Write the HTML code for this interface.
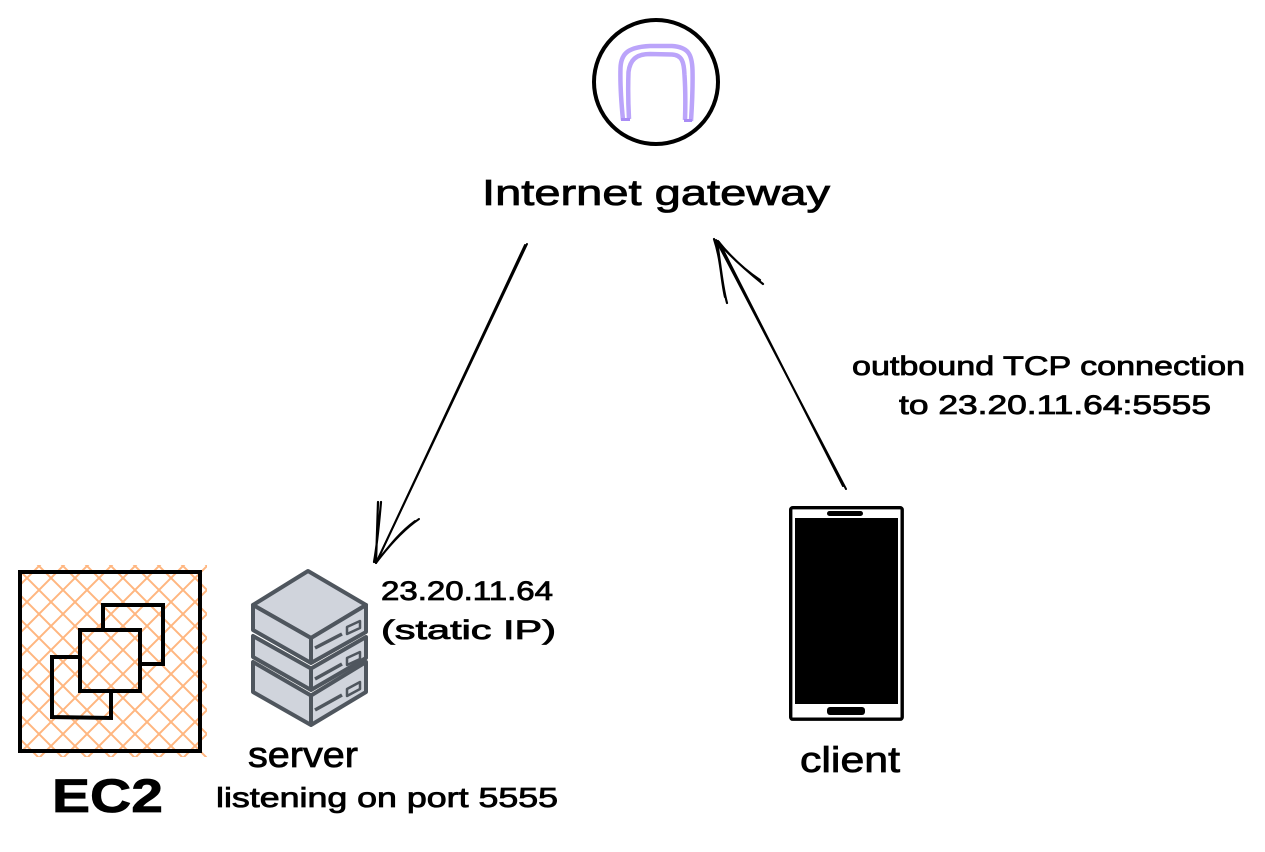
<!DOCTYPE html>
<html><head><meta charset="utf-8"><style>
html,body{margin:0;padding:0;background:#fff;width:1265px;height:852px;overflow:hidden}
svg{display:block}
text{font-family:"Liberation Sans",sans-serif;fill:#000;stroke:#000;stroke-width:.8}
</style></head><body>
<svg width="1265" height="852" viewBox="0 0 1265 852" xmlns="http://www.w3.org/2000/svg">
<defs>
<pattern id="h" width="24" height="24" patternUnits="userSpaceOnUse" x="3" y="2">
<path d="M-6,-6L30,30M-6,30L30,-6" stroke="#ffb680" stroke-width="2" fill="none"/>
</pattern>
</defs>
<rect x="21" y="565" width="186" height="192" fill="url(#h)"/>
<rect x="20" y="572" width="180" height="179" fill="none" stroke="#000" stroke-width="4"/>
<path d="M103,629V605H163V664H141M79,657H52L52,717L111,718V692" fill="none" stroke="#000" stroke-width="4"/>
<rect x="80" y="630" width="60" height="61" fill="none" stroke="#000" stroke-width="4"/>

<circle cx="656" cy="82" r="62" fill="none" stroke="#000" stroke-width="4"/>
<g fill="none" stroke="#bba4fa" stroke-width="4.500">
<path d="M623,120C621,100 620,85 620.500,68C621,52 630,47 650,46L672,46C688,47 692,54 692.500,70C693,90 692,105 691,121"/>
<path d="M629,119C628,100 628,85 628.500,72C630,60 636,54 650,54L672,54.500C682,55 684,62 684.500,75C685.500,90 685.500,105 685,120"/>
</g>
<path d="M621,119.500L630,119.500M684,120.500L692,120.500" stroke="#a98cf5" stroke-width="3" fill="none"/>

<g fill="none" stroke="#000" stroke-linecap="round">
<path d="M527,244L376,563" stroke-width="2"/>
<path d="M525,245L378,559" stroke-width="2"/>
<path d="M381,502C379,525 377,545 374,562M378,502L376,563" stroke-width="2.200"/>
<path d="M419,519C403,530 388,547 376,563M415,521C400,532 390,545 378,560" stroke-width="2"/>
<path d="M846,489L716,240" stroke-width="2"/>
<path d="M843,486L719,242" stroke-width="2"/>
<path d="M727,303C722,285 720,260 717,241M725,297C721,280 721,260 714,239" stroke-width="2.200"/>
<path d="M763,284C748,272 730,256 717,241M760,280C745,270 730,256 718,241" stroke-width="2.200"/>
</g>

<g stroke="#4f565e" stroke-width="4" stroke-linejoin="round" fill="#d0d4dc">
<path d="M253,662V692L311,725L366,692V662L311,695.500Z"/>
<path d="M311,695.500V725" fill="none"/>
<path d="M253,636V657L311,690L366,658V637L311,668.500Z"/>
<path d="M311,668.500V690" fill="none"/>
<path d="M253,605L308,571L366,605L311,638Z"/>
<path d="M253,605V630L311,663L366,632V605L311,638Z"/>
<path d="M311,638V663" fill="none"/>
<g fill="none">
<path d="M315,648L342,634M315,679L342,664M315,710L342,695" stroke-width="3.500"/>
<path d="M347,627L360,621V628L347,634ZM347,658L360,652V659L347,665ZM347,689L360,682V689L347,696Z" stroke-width="2.500"/>
</g>
</g>

<rect x="790.700" y="507.700" width="111.500" height="211.500" rx="2" fill="#fff" stroke="#000" stroke-width="3.400"/>
<rect x="795" y="518" width="103" height="186" fill="#000"/>
<rect x="827" y="511" width="36" height="5" rx="2.500" fill="#000"/>
<rect x="827" y="707" width="38" height="8" rx="3" fill="#000"/>

<text x="482" y="205" font-size="36" textLength="348" lengthAdjust="spacingAndGlyphs">Internet gateway</text>
<text x="852" y="375" font-size="27" textLength="393" lengthAdjust="spacingAndGlyphs">outbound TCP connection</text>
<text x="899" y="414" font-size="27" textLength="312" lengthAdjust="spacingAndGlyphs">to 23.20.11.64:5555</text>
<text x="381" y="600" font-size="27" textLength="172" lengthAdjust="spacingAndGlyphs">23.20.11.64</text>
<text x="381" y="639" font-size="27" textLength="175" lengthAdjust="spacingAndGlyphs">(static IP)</text>
<text x="248" y="767" font-size="36" textLength="110" lengthAdjust="spacingAndGlyphs">server</text>
<text x="216" y="807" font-size="28" textLength="342" lengthAdjust="spacingAndGlyphs">listening on port 5555</text>
<text x="52" y="812" font-size="47" font-weight="bold" textLength="111" lengthAdjust="spacingAndGlyphs">EC2</text>
<text x="800" y="772" font-size="36" textLength="100" lengthAdjust="spacingAndGlyphs">client</text>
</svg>
</body></html>
